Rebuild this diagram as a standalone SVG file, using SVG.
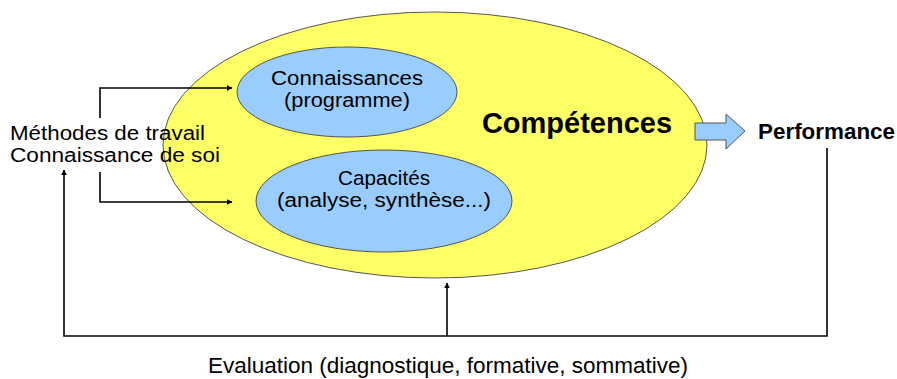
<svg xmlns="http://www.w3.org/2000/svg" width="897" height="379" viewBox="0 0 897 379">
<style>
.t{font-family:"Liberation Sans",Arial,sans-serif;fill:#000}
.c{stroke:#000;stroke-width:1.6;fill:none}
</style>
<defs>
<marker id="ah" viewBox="0 0 10 10" refX="9" refY="5" markerWidth="6" markerHeight="6" markerUnits="userSpaceOnUse" orient="auto"><path d="M0,0 L10,5 L0,10 z" fill="#000"/></marker>
</defs>
<rect width="897" height="379" fill="#fff"/>
<g id="competences">
<ellipse cx="435" cy="145" rx="272" ry="133" fill="#ffff66" stroke="#555" stroke-width="1"/>
<text class="t" x="577" y="133" font-size="29" font-weight="bold" text-anchor="middle">Compétences</text>
</g>
<g id="connaissances">
<ellipse cx="347" cy="92" rx="110" ry="45" fill="#99ccff" stroke="#555" stroke-width="1"/>
<text class="t" x="347" y="85" font-size="20" text-anchor="middle" textLength="152" lengthAdjust="spacingAndGlyphs">Connaissances</text>
<text class="t" x="347" y="107" font-size="20" text-anchor="middle" textLength="126" lengthAdjust="spacingAndGlyphs">(programme)</text>
</g>
<g id="capacites">
<ellipse cx="384" cy="201" rx="128" ry="51" fill="#99ccff" stroke="#555" stroke-width="1"/>
<text class="t" x="384" y="185" font-size="20" text-anchor="middle" textLength="92" lengthAdjust="spacingAndGlyphs">Capacités</text>
<text class="t" x="384" y="207" font-size="20" text-anchor="middle" textLength="214" lengthAdjust="spacingAndGlyphs">(analyse, synthèse...)</text>
</g>
<g id="methodes">
<text class="t" x="10" y="140" font-size="20" textLength="195" lengthAdjust="spacingAndGlyphs">Méthodes de travail</text>
<text class="t" x="10" y="162" font-size="20" textLength="210" lengthAdjust="spacingAndGlyphs">Connaissance de soi</text>
</g>
<g id="performance">
<text class="t" x="758" y="139" font-size="22" font-weight="bold" textLength="137" lengthAdjust="spacingAndGlyphs">Performance</text>
</g>
<g id="evaluation">
<text class="t" x="208" y="373" font-size="22" textLength="480" lengthAdjust="spacingAndGlyphs">Evaluation (diagnostique, formative, sommative)</text>
</g>
<g id="connectors">
<path d="M695,123 H726 V114 L745,131 L726,149 V140 H695 z" fill="#99ccff" stroke="#555" stroke-width="1"/>
<path class="c" d="M100,118 V88 H232" marker-end="url(#ah)"/>
<path class="c" d="M100,172 V202 H232" marker-end="url(#ah)"/>
<path class="c" d="M827,148 V336 H64 V170" marker-end="url(#ah)"/>
<path class="c" d="M447,336 V283" marker-end="url(#ah)"/>
</g>
</svg>
